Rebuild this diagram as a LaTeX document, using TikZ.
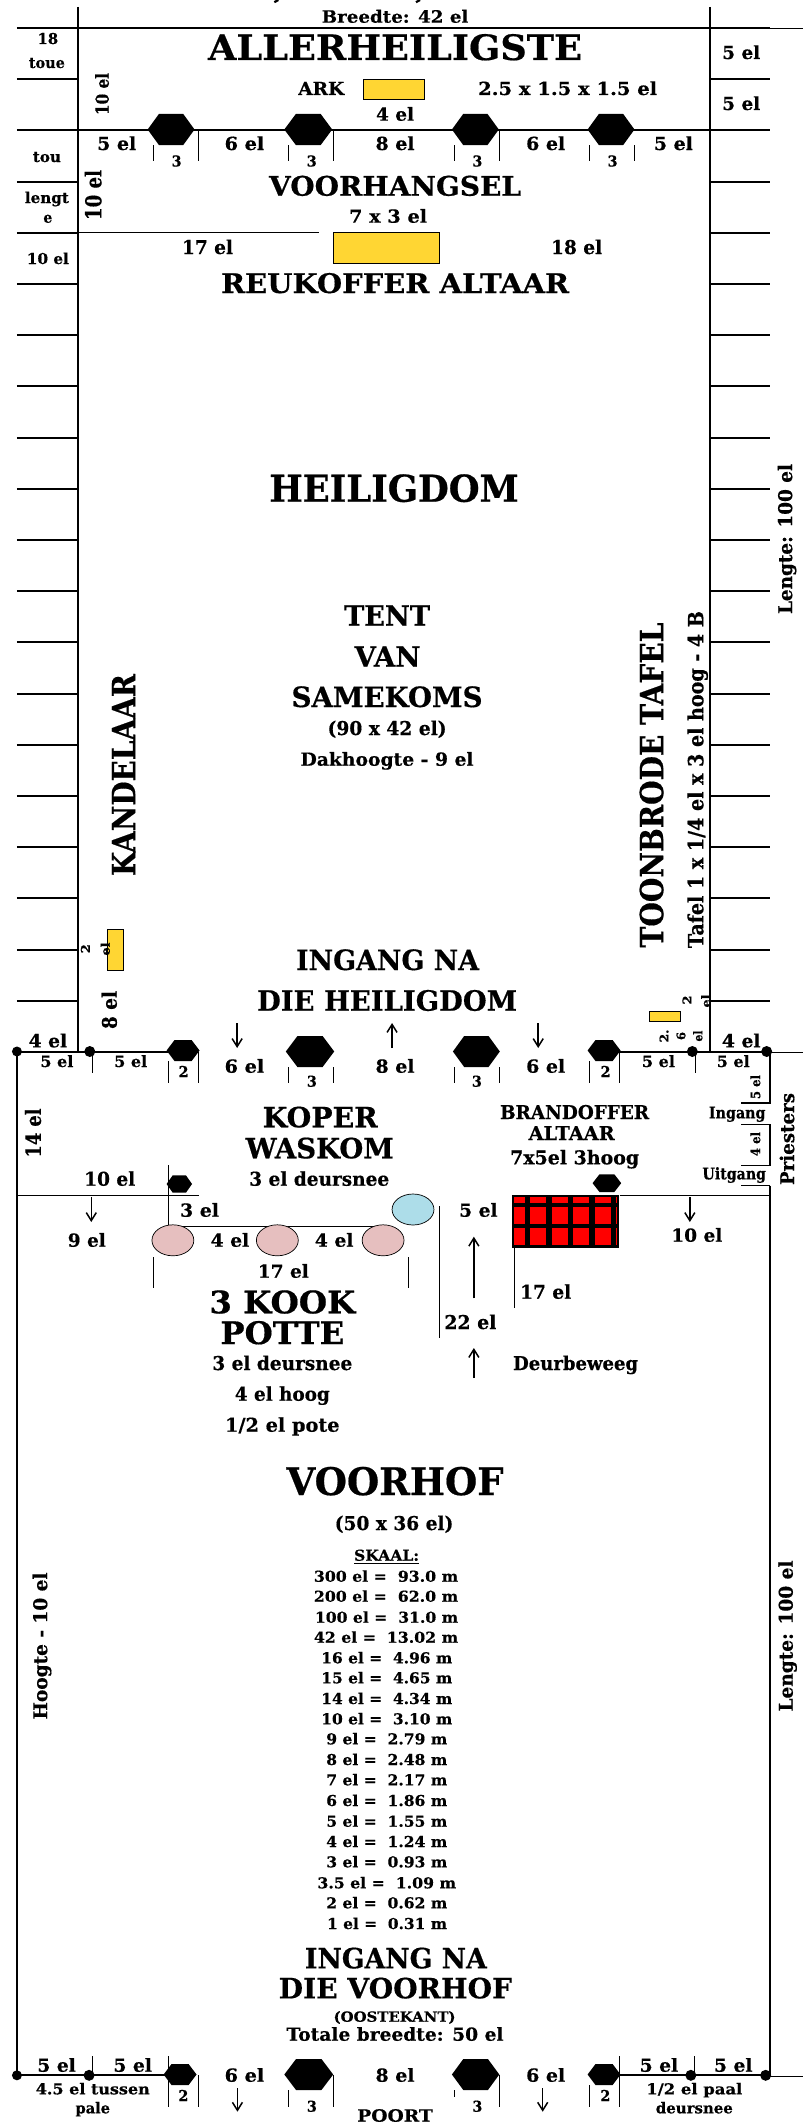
\documentclass[tikz,border=0pt]{standalone}
\usepackage{graphicx}
\usepackage{fontspec}
\setmainfont{DejaVu Serif}[BoldFeatures={FakeBold=0.5}]
\usetikzlibrary{arrows.meta}
\definecolor{gold}{HTML}{FFD633}
\definecolor{potpink}{HTML}{E6BFBF}
\definecolor{basinblue}{HTML}{ADDDE9}
\newcounter{tc}
\tikzset{
  lab/.style={inner sep=0pt,outer sep=0pt,font=\bfseries},
  wall/.style={line width=2pt},
  heavy/.style={line width=2.4pt},
  thinl/.style={line width=0.8pt},
  midl/.style={line width=1.1pt},
  arrowl/.style={line width=1.5pt,-{Straight Barb[length=8pt,width=10pt]}},
  hexfill/.style={fill=black,draw=none},
  goldbox/.style={fill=gold,draw=black,line width=0.8pt},
  potfill/.style={fill=potpink,draw=black,line width=0.7pt},
}
% centre x, baseline y, width, font size, text
\newcommand{\tx}[5]{\stepcounter{tc}\node[lab,anchor=base,name=t\thetc] at (#1,#2) {\resizebox{#3pt}{\height}{\fontsize{#4}{#4}\selectfont #5}};}
% baseline x, centre y, length, font size, text (reads upwards)
\newcommand{\rt}[5]{\stepcounter{tc}\node[lab,anchor=base,rotate=90,name=t\thetc] at (#1,#2) {\resizebox{#3pt}{\height}{\fontsize{#4}{#4}\selectfont #5}};}
\newcommand{\hexa}[4]{\fill[hexfill] ({#1},{(#3+#4)/2}) -- ({#1+0.24*(#2-#1)},#3) -- ({#2-0.24*(#2-#1)},#3) -- (#2,{(#3+#4)/2}) -- ({#2-0.24*(#2-#1)},#4) -- ({#1+0.24*(#2-#1)},#4) -- cycle;}
\begin{document}
\begin{tikzpicture}[x=0.9976pt,y=-1pt]
\useasboundingbox (0,0) rectangle (804.93,2122);
\fill[white] (0,0) rectangle (804.93,2122);

% cut-off text at the very top
\draw[line width=2.2pt] (279,0) -- (275,2.2);
\draw[line width=2.2pt] (421,0) -- (417,2.2);

% inner walls
\draw[wall] (78,7) -- (78,1051.5);
\draw[wall] (711.5,7) -- (711.5,1051.5);
% ropes
\foreach \k in {0,...,19}{
  \pgfmathsetmacro{\yy}{28+51.2*\k}
  \draw[wall] (17,\yy) -- (78,\yy);
  \draw[wall] (711.5,\yy) -- (772,\yy);
}
\draw[heavy] (78,28) -- (711.5,28);
\draw[thinl] (772,28.6) -- (805,28.6);
\draw[wall] (78,130) -- (711.5,130);
\draw[midl] (78,232.8) -- (320,232.8);

% top row of pillars
\hexa{148}{195}{114}{145}
\hexa{285}{333}{114}{145}
\hexa{453}{500}{114}{145}
\hexa{589}{636}{114}{145}
\foreach \x in {154,289,455,591,636}{\draw[thinl] (\x,145) -- (\x,161);}
\foreach \x in {199,334,500.5}{\draw[thinl] (\x,130) -- (\x,161);}
\foreach \x in {177,312.5,478.5,614}{\tx{\x}{166.5}{10}{15}{3}}

% court outline
\draw[wall] (17,1051.5) -- (17,2076);
\draw[wall] (772,1051.5) -- (772,1103.3) -- (743,1103.3);
\draw[midl] (743,1124.3) -- (772,1124.3);
\draw[midl] (743,1165.7) -- (772,1165.7);
\draw[wall] (772,1124.3) -- (772,1165.7);
\draw[midl] (743,1185.7) -- (772,1185.7);
\draw[wall] (772,1185.7) -- (772,2076);

% inner gate line
\draw[wall] (17,1051.5) -- (170,1051.5);
\draw[wall] (620,1051.5) -- (772,1051.5);
\draw[thinl] (772,1052.5) -- (805,1052.5);
\hexa{167}{200}{1040}{1061}
\hexa{589}{622}{1040}{1061}
\hexa{286.5}{335}{1036}{1067}
\hexa{454}{501}{1036}{1067}
\foreach \x/\r in {17/5,90/5.5,694/5.5,768.5/5.5}{\fill (\x,1051.5) circle[radius=\r pt];}
\foreach \x in {93,696.6}{\draw[thinl] (\x,1051.5) -- (\x,1073);}
\foreach \x in {169,591}{\draw[thinl] (\x,1061) -- (\x,1083);}
\foreach \x in {199,621}{\draw[thinl] (\x,1051.5) -- (\x,1083);}
\foreach \x in {289,334,455,500.5}{\draw[thinl] (\x,1067) -- (\x,1083);}

% wash-basin line
\draw[midl] (17,1195.7) -- (199,1195.7);
\draw[midl] (621,1195.7) -- (772,1195.7);
\draw[line width=0.9pt] (169,1165) -- (169,1226) -- (385,1226);
\hexa{167}{192.5}{1175.3}{1192.7}
\hexa{594}{622.7}{1174.3}{1192}
\draw[thinl] (440.5,1206) -- (440.5,1338);
\draw[thinl] (516,1248) -- (516,1308);
\draw[thinl] (154,1257) -- (154,1287.7);
\draw[thinl] (409.6,1257) -- (409.6,1287.7);

% altar grid
\fill[red] (513,1195) rectangle (620,1248);
\foreach \a/\b in {513/515.5,526/531,547.3/553,569/574,590/596,612/617,618/620}{\fill (\a,1195) rectangle (\b,1248);}
\foreach \a/\b in {1195/1197,1203.3/1206.7,1224.3/1227.7,1245.3/1248}{\fill (513,\a) rectangle (620,\b);}

% vessels
\draw[fill=basinblue,draw=black,line width=0.7pt] (414,1209.5) ellipse (21 and 15.5);
\foreach \x in {173.3,278,384}{\draw[potfill] (\x,1240.3) ellipse (21 and 15.5);}
\draw[goldbox] (364.5,79) rectangle (425,99);
\draw[goldbox] (334,232.7) rectangle (440,263);
\draw[goldbox] (107.8,929.3) rectangle (123.2,970.7);
\draw[goldbox] (651,1011.3) rectangle (681.7,1021.3);

% arrows
\coordinate (a1) at (237.7,1023); \coordinate (a2) at (237.7,1048);
\coordinate (b1) at (393,1048); \coordinate (b2) at (393,1023);
\coordinate (c1) at (539.5,1023); \coordinate (c2) at (539.5,1048);
\coordinate (d1) at (91.5,1197); \coordinate (d2) at (91.5,1222);
\coordinate (e1) at (691.5,1197); \coordinate (e2) at (691.5,1222);
\coordinate (f1) at (475,1298.3); \coordinate (f2) at (475,1236.7);
\coordinate (g1) at (475,1378); \coordinate (g2) at (475,1348);
\coordinate (h1) at (238,2088); \coordinate (h2) at (238,2111.7);
\coordinate (i1) at (544,2088); \coordinate (i2) at (544,2111.7);
\foreach \p/\q in {a1/a2,b1/b2,c1/c2,d1/d2,e1/e2,f1/f2,g1/g2,h1/h2,i1/i2}{\draw[arrowl] (\p) -- (\q);}

% outer gate line
\draw[wall] (17,2075.3) -- (166,2075.3);
\draw[wall] (620,2075.3) -- (772,2075.3);
\draw[thinl] (772,2076) -- (805,2076);
\hexa{164}{197}{2064}{2085}
\hexa{589}{622}{2064}{2085}
\hexa{285}{334}{2059}{2090}
\hexa{453}{500.5}{2059}{2090}
\foreach \x/\r in {17/5,89.3/5.5,692.5/5.5,767.5/5.5}{\fill (\x,2075.3) circle[radius=\r pt];}
\foreach \x in {92.4,696}{\draw[thinl] (\x,2056) -- (\x,2075);}
\foreach \x in {169,621}{\draw[thinl] (\x,2056) -- (\x,2106.7);}
\draw[thinl] (199,2075.3) -- (199,2106.7);
\draw[thinl] (289,2090) -- (289,2106.7);
\draw[thinl] (334,2075.3) -- (334,2106.7);
\draw[thinl] (455,2090) -- (455,2097);
\draw[thinl] (500.5,2075.3) -- (500.5,2106.7);
\draw[thinl] (591,2085) -- (591,2106.7);

% --- text: top ---
\tx{396}{22.7}{146.7}{17}{Breedte: 42 el}
\tx{48}{44}{20.5}{15}{18}
\tx{47}{68}{36}{15}{toue}
\tx{396}{60}{374}{35}{ALLERHEILIGSTE}
\tx{322}{95}{46}{18}{ARK}
\tx{569}{95}{179}{18}{2.5 x 1.5 x 1.5 el}
\tx{396}{120.7}{38}{18}{4 el}
\tx{743}{59}{38}{18}{5 el}
\tx{743}{110}{38}{18}{5 el}
\rt{109}{94}{42}{18}{10 el}
\rt{101.6}{195}{50}{22}{10 el}
\tx{117}{150}{39}{18}{5 el}
\tx{245}{150}{39.5}{18}{6 el}
\tx{396}{150}{39}{18}{8 el}
\tx{547}{150}{39}{18}{6 el}
\tx{675}{150}{39}{18}{5 el}
\tx{47}{162}{28}{15}{tou}
\tx{47}{203}{44}{15}{lengt}
\tx{48}{222.7}{9}{15}{e}
\tx{48}{264}{42}{15}{10 el}
\tx{396}{195.7}{252}{27}{VOORHANGSEL}
\tx{389}{222.7}{78}{18}{7 x 3 el}
\tx{208}{254}{51}{19}{17 el}
\tx{578}{254}{51}{19}{18 el}
\tx{396}{293}{348}{27}{REUKOFFER ALTAAR}

% --- text: heiligdom ---
\tx{395}{501.7}{249.5}{37}{HEILIGDOM}
\tx{388}{625.7}{86}{28}{TENT}
\tx{388.5}{666.7}{66}{28}{VAN}
\tx{388}{707}{191}{28}{SAMEKOMS}
\tx{388}{735}{119}{19}{(90 x 42 el)}
\tx{388}{765.7}{173}{18}{Dakhoogte - 9 el}
\rt{135.5}{775}{202}{32}{KANDELAAR}
\rt{664.8}{785}{325}{32}{TOONBRODE TAFEL}
\rt{705}{779.5}{337}{21}{Tafel 1 x 1/4 el x 3 el hoog - 4 B}
\rt{794}{539}{150}{19}{Lengte: 100 el}
\tx{388.5}{970}{183}{28}{INGANG NA}
\tx{388}{1010.7}{260}{28}{DIE HEILIGDOM}
\rt{90}{948.7}{9}{12}{2}
\rt{110}{949}{13}{12}{el}
\rt{117}{1010}{38}{20}{8 el}
\rt{693}{1000}{9}{12}{2}
\rt{712}{1001}{13}{12}{el}
\rt{670}{1036}{13}{12}{2.}
\rt{687}{1036}{8}{12}{6}
\rt{704}{1036}{11}{12}{el}
\tx{48}{1047.3}{38.5}{18}{4 el}
\tx{743}{1047.3}{38.5}{18}{4 el}
\tx{57}{1067}{33}{15.5}{5 el}
\tx{131}{1067}{33}{15.5}{5 el}
\tx{660}{1067}{33}{15.5}{5 el}
\tx{735}{1067}{33}{15.5}{5 el}
\tx{184}{1077}{10}{15}{2}
\tx{607}{1077}{10}{15}{2}
\tx{245}{1072.7}{39.5}{18}{6 el}
\tx{396}{1072.7}{39}{18}{8 el}
\tx{547}{1072.7}{39}{18}{6 el}
\tx{312.6}{1086.7}{10}{15}{3}
\tx{478}{1086.7}{10}{15}{3}

% --- text: court ---
\rt{762}{1087}{24}{13}{5 el}
\rt{762}{1144}{24}{13}{4 el}
\tx{739}{1118.3}{56.5}{16}{Ingang}
\tx{736}{1179.3}{63.6}{16}{Uitgang}
\rt{796}{1139}{92}{19}{Priesters}
\rt{41}{1133}{49}{21}{14 el}
\tx{321}{1127.3}{115}{28}{KOPER}
\tx{320.5}{1158.3}{148}{28}{WASKOM}
\tx{320}{1185.7}{140}{19}{3 el deursnee}
\tx{576}{1119}{149}{19}{BRANDOFFER}
\tx{573}{1140}{86}{19}{ALTAAR}
\tx{576}{1164.3}{129}{19}{7x5el 3hoog}
\tx{110}{1185.7}{51}{19}{10 el}
\tx{200}{1216.7}{39}{18}{3 el}
\tx{479.5}{1216.7}{38.5}{18}{5 el}
\tx{87}{1246.7}{38}{18}{9 el}
\tx{698.5}{1241.7}{51}{18}{10 el}
\tx{230.5}{1246.7}{38.5}{18}{4 el}
\tx{335}{1246.7}{38.5}{18}{4 el}
\tx{284}{1277.7}{51}{18}{17 el}
\tx{547}{1298.7}{51}{19}{17 el}
\tx{471.5}{1329}{52}{19}{22 el}
\tx{283}{1313.3}{146}{31}{3 KOOK}
\tx{283}{1344}{124}{31}{POTTE}
\tx{283}{1370}{140}{19}{3 el deursnee}
\tx{283}{1400.7}{95}{19}{4 el hoog}
\tx{283}{1431.7}{114.5}{19}{1/2 el pote}
\tx{577}{1370}{125}{19}{Deurbeweeg}
\tx{396}{1495}{217}{38}{VOORHOF}
\tx{395}{1530}{118.6}{19}{(50 x 36 el)}
\tx{387.5}{1560.7}{65}{15}{SKAAL:}
\draw[line width=0.9pt] (355,1563.4) -- (420,1563.4);

% --- scale ---
\tx{387}{1581.7}{144.3}{15}{300 el =~~93.0 m}
\tx{387}{1601.7}{144.3}{15}{200 el =~~62.0 m}
\tx{387.5}{1622.7}{143.3}{15}{100 el =~~31.0 m}
\tx{387}{1642.7}{144.3}{15}{42 el =~~13.02 m}
\tx{387.7}{1663.3}{131}{15}{16 el =~~4.96 m}
\tx{387.7}{1683.3}{131}{15}{15 el =~~4.65 m}
\tx{387.7}{1704}{131}{15}{14 el =~~4.34 m}
\tx{387.7}{1724.3}{131}{15}{10 el =~~3.10 m}
\tx{387.7}{1744.3}{121}{15}{9 el =~~2.79 m}
\tx{387.7}{1765}{121}{15}{8 el =~~2.48 m}
\tx{387.7}{1785.3}{121}{15}{7 el =~~2.17 m}
\tx{387.7}{1806}{121}{15}{6 el =~~1.86 m}
\tx{387.7}{1826.7}{121}{15}{5 el =~~1.55 m}
\tx{387.7}{1847}{121}{15}{4 el =~~1.24 m}
\tx{387.7}{1867.3}{121}{15}{3 el =~~0.93 m}
\tx{387.7}{1888.3}{138.7}{15}{3.5 el =~~1.09 m}
\tx{387.7}{1908.3}{121}{15}{2 el =~~0.62 m}
\tx{388}{1929}{120}{15}{1 el =~~0.31 m}

% --- text: gate ---
\tx{396.8}{1968.3}{181.7}{28}{INGANG NA}
\tx{396.3}{1998.3}{233.3}{28}{DIE VOORHOF}
\tx{395.5}{2021.7}{122}{14}{(OOSTEKANT)}
\tx{396}{2040.7}{217}{18}{Totale breedte: 50 el}
\rt{47.3}{1646}{147}{19}{Hoogte - 10 el}
\rt{794.6}{1636}{151}{19}{Lengte: 100 el}
\tx{56.7}{2071.7}{38.5}{18}{5 el}
\tx{133}{2071.7}{38.5}{18}{5 el}
\tx{660.5}{2071.7}{38.5}{18}{5 el}
\tx{735}{2071.7}{38.5}{18}{5 el}
\tx{183.8}{2101}{10}{15}{2}
\tx{606.8}{2101}{10}{15}{2}
\tx{245}{2081.7}{39.5}{18}{6 el}
\tx{396}{2081.7}{39}{18}{8 el}
\tx{547}{2081.7}{39}{18}{6 el}
\tx{312.6}{2111.7}{10}{15}{3}
\tx{478.5}{2111.7}{10}{15}{3}
\tx{396}{2121.7}{75.5}{17}{POORT}
\tx{93}{2094.3}{114}{15}{4.5 el tussen}
\tx{93}{2113.3}{34.5}{15}{pale}
\tx{696}{2094.3}{96}{15}{1/2 el paal}
\tx{696}{2113.3}{77}{15}{deursnee}
\end{tikzpicture}
\end{document}
